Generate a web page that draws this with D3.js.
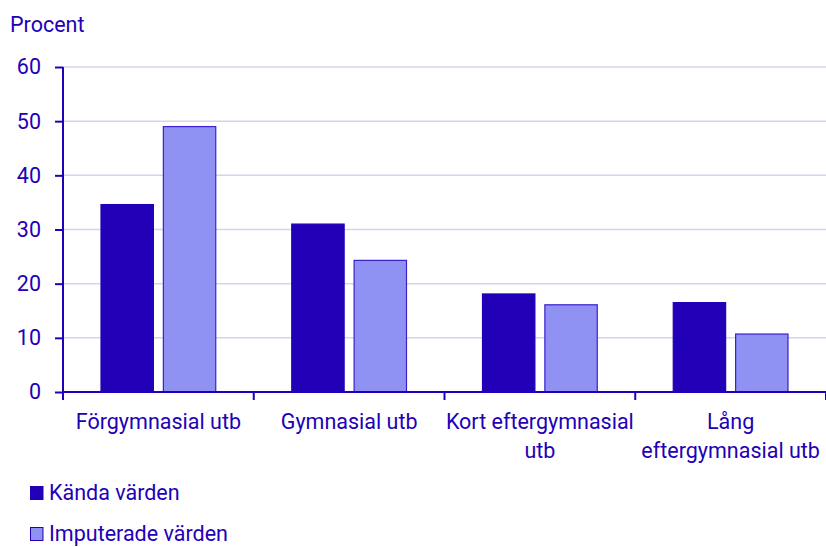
<!DOCTYPE html>
<html>
<head>
<meta charset="utf-8">
<script src="https://cdn.jsdelivr.net/npm/d3@7"></script>
<style>
  body { margin: 0; background: #fff; }
  svg text { font-family: Roboto, sans-serif; fill: #2200b8; }
</style>
</head>
<body>
<svg width="826" height="547"></svg>
<script>
// data
var kategorier = [["Förgymnasial utb"], ["Gymnasial utb"], ["Kort eftergymnasial", "utb"], ["Lång", "eftergymnasial utb"]];
var serier = ["Kända värden", "Imputerade värden"];
var kanda = [34.6, 31.0, 18.1, 16.5];
var imputerade = [49.0, 24.3, 16.1, 10.7];
var yTicks = [0, 10, 20, 30, 40, 50, 60];

var farger = ["#2200b8", "#8f92f3"];
var fs = "21.5px";

var svg = d3.select("svg"),
    margin = {top: 67, right: 0, bottom: 155, left: 63},
    width = 826 - margin.left - margin.right,
    height = 547 - margin.top - margin.bottom,
    g = svg.append("g").attr("transform", "translate(" + margin.left + "," + margin.top + ")");

var x = d3.scaleBand().domain(d3.range(kategorier.length)).range([0, width]);
var x1 = d3.scaleBand().domain([0, 1]).range([38, x.bandwidth() - 38]).paddingInner(0.16);
var y = d3.scaleLinear().domain([0, 60]).range([height, 0]);

// gridlines
g.selectAll(".grid").data(yTicks.slice(1)).enter().append("line")
  .attr("x1", 0).attr("x2", width)
  .attr("y1", function(d) { return y(d); }).attr("y2", function(d) { return y(d); })
  .attr("stroke", "#d4d4f2").attr("stroke-width", 1.5);

// staplar
var grupper = g.selectAll(".grupp").data(kategorier).enter().append("g")
  .attr("transform", function(d, i) { return "translate(" + x(i) + ",0)"; });

grupper.each(function(d, i) {
  var vals = [kanda[i], imputerade[i]];
  d3.select(this).selectAll("rect").data(vals).enter().append("rect")
    .attr("x", function(v, j) { return x1(j); })
    .attr("width", x1.bandwidth())
    .attr("y", function(v) { return y(v); })
    .attr("height", function(v) { return height - y(v); })
    .attr("fill", function(v, j) { return farger[j]; })
    .attr("stroke", function(v, j) { return j == 0 ? "#2200b8" : "#3a1fcf"; })
    .attr("stroke-width", 1.2);
});

// y axel
var yAxis = g.append("g")
  .call(d3.axisLeft(y).tickValues(yTicks).tickSize(8).tickPadding(14));
yAxis.selectAll("line, path").attr("stroke", "#2200b8").attr("stroke-width", 2);
yAxis.select(".domain").attr("d", "M0," + height + "V0");
yAxis.selectAll("text").style("font-size", fs).style("fill", "#2200b8")
  .style("font-family", "Roboto, sans-serif");

// x axel
var xAxis = g.append("g").attr("transform", "translate(0," + height + ")");
xAxis.append("line").attr("x1", 0).attr("x2", width).attr("stroke", "#2200b8").attr("stroke-width", 2);
xAxis.selectAll(".xt").data(d3.range(kategorier.length + 1)).enter().append("line")
  .attr("x1", function(i) { return i * x.step(); }).attr("x2", function(i) { return i * x.step(); })
  .attr("y1", 0).attr("y2", 8)
  .attr("stroke", "#2200b8").attr("stroke-width", 2);

xAxis.selectAll(".xl").data(kategorier).enter().append("text")
  .attr("text-anchor", "middle")
  .attr("transform", function(d, i) { return "translate(" + (x(i) + x.bandwidth() / 2) + ",0)"; })
  .style("font-size", fs)
  .each(function(d) {
    d3.select(this).selectAll("tspan").data(d).enter().append("tspan")
      .attr("x", 0).attr("y", function(t, k) { return 36.5 + k * 29; })
      .text(function(t) { return t; });
  });

// titel
svg.append("text").attr("x", 10).attr("y", 31.5).style("font-size", fs).text("Procent");

// förklaring
var legend = svg.selectAll(".leg").data(serier).enter().append("g")
  .attr("transform", function(d, i) { return "translate(30," + (486 + i * 41) + ")"; });
legend.append("rect").attr("x", 0.5).attr("y", 0.5).attr("width", 12.5).attr("height", 13)
  .attr("fill", function(d, i) { return farger[i]; })
  .attr("stroke", "#2200b8").attr("stroke-width", 1);
legend.append("text").attr("x", 19).attr("y", 14).style("font-size", fs)
  .text(function(d) { return d; });
</script>
</body>
</html>
